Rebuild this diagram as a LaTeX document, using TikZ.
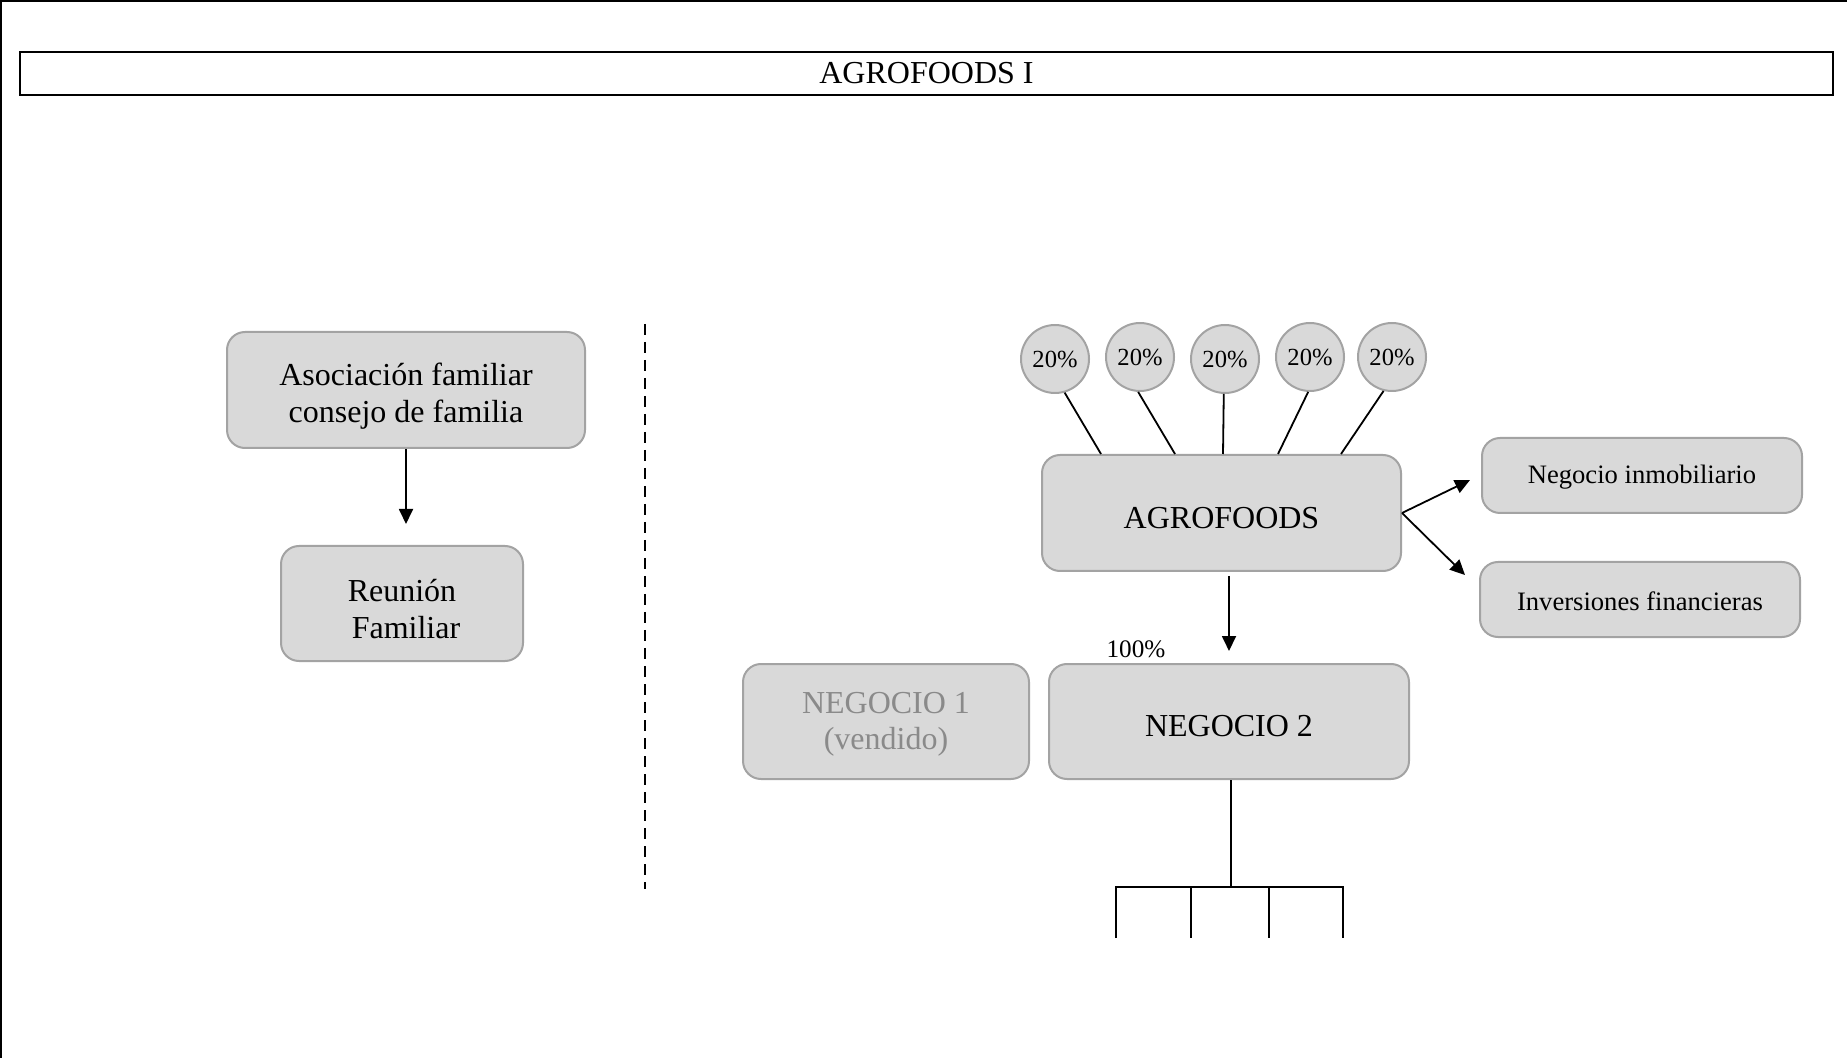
\documentclass[tikz,border=0pt]{standalone}
\usepackage{fontspec}
\setmainfont{Liberation Serif}
\usetikzlibrary{arrows.meta,calc}
\definecolor{boxfill}{HTML}{D9D9D9}
\definecolor{boxline}{HTML}{A3A3A3}
\definecolor{soldtext}{HTML}{8A8A8A}
% centred box text, lowered inside its box while keeping its size
\newcommand{\boxtext}[2][3.5pt]{\raisebox{-#1}[\height][\depth]{\begin{tabular}{@{}c@{}}#2\end{tabular}}}
\begin{document}
\begin{tikzpicture}[x=0.5pt,y=-0.5pt,
  box/.style={draw=boxline, fill=boxfill, line width=1pt, rounded corners=9pt,
    inner sep=0pt, align=center, font=\fontsize{16}{18.4}\selectfont},
  sidebox/.style={box, font=\fontsize{13.3}{15.5}\selectfont},
  share/.style={circle, draw=boxline, fill=boxfill, line width=1pt, inner sep=0pt,
    minimum size=34pt, font=\fontsize{12.3}{14}\selectfont},
  link/.style={line width=0.9pt},
  arrow/.style={link, -{Triangle[length=7.5pt,width=7pt]}},
  frame/.style={line width=1pt}]
\useasboundingbox (0,0) rectangle (1847,1058);

% page frame (top and left edges)
\draw[frame] (0,1) -- (1847,1);
\draw[frame] (1,0) -- (1,1058);

% title bar
\node[draw, line width=1pt, minimum width=906.5pt, minimum height=21.5pt, inner sep=0pt,
  font=\fontsize{16}{18}\selectfont] (title) at (926.5,73.5) {AGROFOODS I};

% family governance
\node[box, minimum width=179pt, minimum height=58pt] (asoc) at (406,390)
  {\boxtext{Asociación familiar\\consejo de familia}};
\node[box, minimum width=121pt, minimum height=57.5pt] (reun) at (402,603.5)
  {\boxtext[4.5pt]{Reunión\\\ Familiar}};
\draw[arrow, shorten >=10.5pt] (asoc.south) -- (asoc.south |- reun.north);

% separator
\coordinate (sepTop) at (645,324);
\coordinate (sepBot) at (645,889);
\draw[line width=0.7pt, dash pattern=on 5.4pt off 3.6pt] (sepTop) -- (sepBot);

% shareholders
\node[share] (s1) at (1055,359) {\raisebox{-2pt}{20\%}};
\node[share] (s2) at (1140,357) {20\%};
\node[share] (s3) at (1225,359) {\raisebox{-1.5pt}{20\%}};
\node[share] (s4) at (1310,357) {20\%};
\node[share] (s5) at (1392,357) {20\%};

% holding company
\node[box, minimum width=179.5pt, minimum height=58pt] (agro) at (1221.5,513)
  {\boxtext[4pt]{AGROFOODS}};

\foreach \s/\a/\dx in {s1/-74/60, s2/-93/134, s3/-92/182, s4/-93/237, s5/-104/300}
  \draw[link] (\s.\a) -- ($(agro.north west)+(\dx,0)$);

% other activities
\node[sidebox, minimum width=160pt, minimum height=37.5pt] (inmob) at (1642,475.5)
  {\boxtext[1pt]{Negocio inmobiliario}};
\node[sidebox, minimum width=160pt, minimum height=37.5pt] (inver) at (1640,599.5)
  {\boxtext[2.2pt]{Inversiones financieras}};
\coordinate (inmobTip) at (1470,480);
\coordinate (inverTip) at (1465,575);
\draw[arrow] (agro.east) -- (inmobTip);
\draw[arrow] (agro.east) -- (inverTip);

% businesses
\node[box, minimum width=143pt, minimum height=57.5pt, text=soldtext] (neg1) at (886,721.5)
  {\boxtext[1.3pt]{NEGOCIO 1\\(vendido)}};
\node[box, minimum width=180pt, minimum height=57.5pt] (neg2) at (1229,721.5)
  {\boxtext[4pt]{NEGOCIO 2}};
\draw[arrow, shorten <=2pt, shorten >=6pt] (neg2.north |- agro.south) -- (neg2.north);
\node[font=\fontsize{12.6}{14}\selectfont, inner sep=0pt] (pct) at (1136,649) {100\%};

% subsidiaries bracket
\coordinate (hub) at (1231,887);
\coordinate (l1t) at (1116,887);
\coordinate (l2t) at (1191,887);
\coordinate (l3t) at (1269,887);
\coordinate (l4t) at (1343,887);
\coordinate (l1b) at (1116,938);
\coordinate (l2b) at (1191,938);
\coordinate (l3b) at (1269,938);
\coordinate (l4b) at (1343,938);
\draw[link] (hub |- neg2.south) -- (hub);
\draw[link] (l1b) -- (l1t) -- (l4t) -- (l4b);
\draw[link] (l2t) -- (l2b);
\draw[link] (l3t) -- (l3b);
\end{tikzpicture}
\end{document}
